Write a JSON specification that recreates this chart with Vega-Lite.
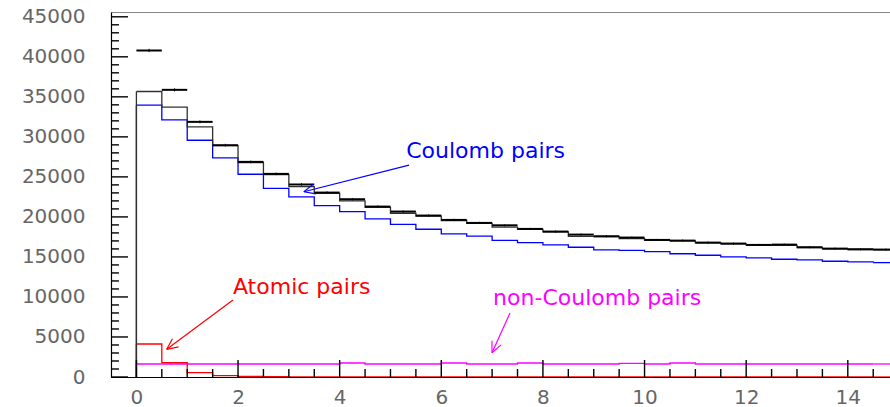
{
  "$schema": "https://vega.github.io/schema/vega-lite/v6.json",
  "width": 780,
  "height": 365,
  "autosize": {"type": "none"},
  "padding": {"left": 111, "top": 12, "right": 0, "bottom": 30},
  "background": "white",
  "config": {
    "view": {"stroke": "#888888", "strokeWidth": 1},
    "axis": {"grid": false, "title": null, "ticks": false, "labelFont": "DejaVu Sans", "labelFontSize": 20, "labelColor": "#666666", "domainColor": "#000000", "domainWidth": 1.2, "labelOverlap": false, "labelBound": false, "labelFlush": false}
  },
  "datasets": {
    "bins": [
      {"lo": 0.0, "hi": 0.5, "c": 0.25, "data": 40790, "dlo": 40588, "dhi": 40992, "total": 35670, "coulomb": 33960, "atomic": 4125, "noncoul": 1625},
      {"lo": 0.5, "hi": 1.0, "c": 0.75, "data": 35875, "dlo": 35686, "dhi": 36064, "total": 33710, "coulomb": 32125, "atomic": 1790, "noncoul": 1625},
      {"lo": 1.0, "hi": 1.5, "c": 1.25, "data": 31875, "dlo": 31696, "dhi": 32054, "total": 31250, "coulomb": 29580, "atomic": 540, "noncoul": 1625},
      {"lo": 1.5, "hi": 2.0, "c": 1.75, "data": 28960, "dlo": 28790, "dhi": 29130, "total": 28900, "coulomb": 27375, "atomic": 170, "noncoul": 1625},
      {"lo": 2.0, "hi": 2.5, "c": 2.25, "data": 26875, "dlo": 26711, "dhi": 27039, "total": 26800, "coulomb": 25330, "atomic": 60, "noncoul": 1625},
      {"lo": 2.5, "hi": 3.0, "c": 2.75, "data": 25375, "dlo": 25216, "dhi": 25534, "total": 25300, "coulomb": 23560, "atomic": 30, "noncoul": 1625},
      {"lo": 3.0, "hi": 3.5, "c": 3.25, "data": 24050, "dlo": 23895, "dhi": 24205, "total": 23790, "coulomb": 22500, "atomic": 20, "noncoul": 1625},
      {"lo": 3.5, "hi": 4.0, "c": 3.75, "data": 23040, "dlo": 22888, "dhi": 23192, "total": 22950, "coulomb": 21420, "atomic": 10, "noncoul": 1625},
      {"lo": 4.0, "hi": 4.5, "c": 4.25, "data": 22210, "dlo": 22061, "dhi": 22359, "total": 22000, "coulomb": 20670, "atomic": 10, "noncoul": 1750},
      {"lo": 4.5, "hi": 5.0, "c": 4.75, "data": 21290, "dlo": 21144, "dhi": 21436, "total": 21200, "coulomb": 19750, "atomic": 5, "noncoul": 1625},
      {"lo": 5.0, "hi": 5.5, "c": 5.25, "data": 20670, "dlo": 20526, "dhi": 20814, "total": 20460, "coulomb": 19080, "atomic": 5, "noncoul": 1625},
      {"lo": 5.5, "hi": 6.0, "c": 5.75, "data": 20170, "dlo": 20028, "dhi": 20312, "total": 20100, "coulomb": 18460, "atomic": 5, "noncoul": 1625},
      {"lo": 6.0, "hi": 6.5, "c": 6.25, "data": 19625, "dlo": 19485, "dhi": 19765, "total": 19550, "coulomb": 17875, "atomic": 0, "noncoul": 1750},
      {"lo": 6.5, "hi": 7.0, "c": 6.75, "data": 19250, "dlo": 19111, "dhi": 19389, "total": 19200, "coulomb": 17600, "atomic": 0, "noncoul": 1625},
      {"lo": 7.0, "hi": 7.5, "c": 7.25, "data": 18950, "dlo": 18812, "dhi": 19088, "total": 18720, "coulomb": 17080, "atomic": 0, "noncoul": 1625},
      {"lo": 7.5, "hi": 8.0, "c": 7.75, "data": 18500, "dlo": 18364, "dhi": 18636, "total": 18450, "coulomb": 16790, "atomic": 0, "noncoul": 1750},
      {"lo": 8.0, "hi": 8.5, "c": 8.25, "data": 18170, "dlo": 18035, "dhi": 18305, "total": 18120, "coulomb": 16500, "atomic": 0, "noncoul": 1625},
      {"lo": 8.5, "hi": 9.0, "c": 8.75, "data": 17790, "dlo": 17657, "dhi": 17923, "total": 17580, "coulomb": 16210, "atomic": 0, "noncoul": 1625},
      {"lo": 9.0, "hi": 9.5, "c": 9.25, "data": 17580, "dlo": 17447, "dhi": 17713, "total": 17550, "coulomb": 15875, "atomic": 0, "noncoul": 1625},
      {"lo": 9.5, "hi": 10.0, "c": 9.75, "data": 17420, "dlo": 17288, "dhi": 17552, "total": 17290, "coulomb": 15810, "atomic": 0, "noncoul": 1700},
      {"lo": 10.0, "hi": 10.5, "c": 10.25, "data": 17125, "dlo": 16994, "dhi": 17256, "total": 17080, "coulomb": 15670, "atomic": 0, "noncoul": 1625},
      {"lo": 10.5, "hi": 11.0, "c": 10.75, "data": 17040, "dlo": 16909, "dhi": 17171, "total": 17000, "coulomb": 15400, "atomic": 0, "noncoul": 1750},
      {"lo": 11.0, "hi": 11.5, "c": 11.25, "data": 16790, "dlo": 16660, "dhi": 16920, "total": 16750, "coulomb": 15210, "atomic": 0, "noncoul": 1625},
      {"lo": 11.5, "hi": 12.0, "c": 11.75, "data": 16670, "dlo": 16541, "dhi": 16799, "total": 16640, "coulomb": 15000, "atomic": 0, "noncoul": 1625},
      {"lo": 12.0, "hi": 12.5, "c": 12.25, "data": 16500, "dlo": 16372, "dhi": 16628, "total": 16480, "coulomb": 14875, "atomic": 0, "noncoul": 1625},
      {"lo": 12.5, "hi": 13.0, "c": 12.75, "data": 16540, "dlo": 16411, "dhi": 16669, "total": 16460, "coulomb": 14710, "atomic": 0, "noncoul": 1625},
      {"lo": 13.0, "hi": 13.5, "c": 13.25, "data": 16210, "dlo": 16083, "dhi": 16337, "total": 16180, "coulomb": 14625, "atomic": 0, "noncoul": 1625},
      {"lo": 13.5, "hi": 14.0, "c": 13.75, "data": 16040, "dlo": 15913, "dhi": 16167, "total": 16010, "coulomb": 14460, "atomic": 0, "noncoul": 1625},
      {"lo": 14.0, "hi": 14.5, "c": 14.25, "data": 15960, "dlo": 15834, "dhi": 16086, "total": 15930, "coulomb": 14375, "atomic": 0, "noncoul": 1625},
      {"lo": 14.5, "hi": 15.0, "c": 14.75, "data": 15920, "dlo": 15794, "dhi": 16046, "total": 15900, "coulomb": 14290, "atomic": 0, "noncoul": 1625}
    ],
    "xmajor": [{"v": 0}, {"v": 2}, {"v": 4}, {"v": 6}, {"v": 8}, {"v": 10}, {"v": 12}, {"v": 14}],
    "xminor": [{"v": 0.5}, {"v": 1}, {"v": 1.5}, {"v": 2.5}, {"v": 3}, {"v": 3.5}, {"v": 4.5}, {"v": 5}, {"v": 5.5}, {"v": 6.5}, {"v": 7}, {"v": 7.5}, {"v": 8.5}, {"v": 9}, {"v": 9.5}, {"v": 10.5}, {"v": 11}, {"v": 11.5}, {"v": 12.5}, {"v": 13}, {"v": 13.5}, {"v": 14.5}],
    "ymajor": [{"v": 0}, {"v": 5000}, {"v": 10000}, {"v": 15000}, {"v": 20000}, {"v": 25000}, {"v": 30000}, {"v": 35000}, {"v": 40000}, {"v": 45000}],
    "yminor": [{"v": 1000}, {"v": 2000}, {"v": 3000}, {"v": 4000}, {"v": 6000}, {"v": 7000}, {"v": 8000}, {"v": 9000}, {"v": 11000}, {"v": 12000}, {"v": 13000}, {"v": 14000}, {"v": 16000}, {"v": 17000}, {"v": 18000}, {"v": 19000}, {"v": 21000}, {"v": 22000}, {"v": 23000}, {"v": 24000}, {"v": 26000}, {"v": 27000}, {"v": 28000}, {"v": 29000}, {"v": 31000}, {"v": 32000}, {"v": 33000}, {"v": 34000}, {"v": 36000}, {"v": 37000}, {"v": 38000}, {"v": 39000}, {"v": 41000}, {"v": 42000}, {"v": 43000}, {"v": 44000}],
    "notes": [
      {"series": "coulomb", "label": "Coulomb pairs", "x": 5.31, "y": 27375},
      {"series": "atomic", "label": "Atomic pairs", "x": 1.90, "y": 10340},
      {"series": "noncoul", "label": "non-Coulomb pairs", "x": 7.02, "y": 9000}
    ],
    "arrows": [
      {"series": "coulomb", "x": 5.365, "y": 26480, "x2": 3.295, "y2": 23145},
      {"series": "coulomb", "x": 3.295, "y": 23145, "x2": 3.531, "y2": 22869},
      {"series": "coulomb", "x": 3.295, "y": 23145, "x2": 3.482, "y2": 24093},
      {"series": "atomic", "x": 1.901, "y": 9617, "x2": 0.596, "y2": 3460},
      {"series": "atomic", "x": 0.596, "y": 3460, "x2": 0.829, "y2": 3759},
      {"series": "atomic", "x": 0.596, "y": 3460, "x2": 0.709, "y2": 4784},
      {"series": "noncoul", "x": 7.352, "y": 7994, "x2": 6.998, "y2": 3035},
      {"series": "noncoul", "x": 6.998, "y": 3035, "x2": 7.178, "y2": 4009},
      {"series": "noncoul", "x": 6.998, "y": 3035, "x2": 6.997, "y2": 4534}
    ]
  },
  "layer": [
    {
      "data": {"name": "bins"},
      "transform": [{"fold": ["noncoul", "atomic", "coulomb", "total"], "as": ["series", "value"]}],
      "mark": {"type": "line", "interpolate": "step-after", "strokeWidth": 1.3, "clip": true},
      "encoding": {
        "x": {"field": "lo", "type": "quantitative",
              "scale": {"domain": [-0.5, 14.85], "nice": false, "zero": false},
              "axis": {"orient": "bottom", "values": [0, 2, 4, 6, 8, 10, 12, 14], "labelPadding": 10, "title": null}},
        "y": {"field": "value", "type": "quantitative",
              "scale": {"domain": [0, 45600], "nice": false, "zero": true},
              "axis": {"orient": "left", "values": [0, 5000, 10000, 15000, 20000, 25000, 30000, 35000, 40000, 45000], "format": "d", "labelPadding": 26, "title": null}},
        "color": {"field": "series", "type": "nominal",
                  "scale": {"domain": ["noncoul", "atomic", "coulomb", "total"], "range": ["#ff00ff", "#ff0000", "#0000ff", "#303030"]},
                  "legend": null}
      }
    },
    {
      "data": {"name": "bins"},
      "transform": [
        {"fold": ["noncoul", "atomic", "coulomb", "total"], "as": ["series", "value"]},
        {"filter": "datum.lo == 14.5"}
      ],
      "mark": {"type": "rule", "strokeWidth": 1.3, "clip": true},
      "encoding": {
        "x": {"field": "lo", "type": "quantitative"},
        "x2": {"field": "hi"},
        "y": {"field": "value", "type": "quantitative"},
        "color": {"field": "series", "type": "nominal", "legend": null}
      }
    },
    {
      "data": {"name": "bins"},
      "transform": [
        {"fold": ["noncoul", "atomic", "coulomb", "total"], "as": ["series", "value"]},
        {"filter": "datum.lo == 0"}
      ],
      "mark": {"type": "rule", "strokeWidth": 1.3},
      "encoding": {
        "x": {"field": "lo", "type": "quantitative"},
        "y": {"field": "value", "type": "quantitative"},
        "y2": {"datum": 0},
        "color": {"field": "series", "type": "nominal", "legend": null}
      }
    },
    {
      "data": {"name": "bins"},
      "mark": {"type": "rule", "strokeWidth": 2, "color": "#000000", "clip": true},
      "encoding": {
        "x": {"field": "lo", "type": "quantitative"},
        "x2": {"field": "hi"},
        "y": {"field": "data", "type": "quantitative"}
      }
    },
    {
      "data": {"name": "bins"},
      "mark": {"type": "rule", "color": "#000000", "strokeWidth": 1},
      "encoding": {
        "x": {"field": "c", "type": "quantitative"},
        "y": {"field": "dlo", "type": "quantitative"},
        "y2": {"field": "dhi"}
      }
    },
    {
      "data": {"name": "xmajor"},
      "mark": {"type": "rule", "color": "#000000", "strokeWidth": 1.4},
      "encoding": {
        "x": {"field": "v", "type": "quantitative"},
        "y": {"datum": 0, "type": "quantitative"},
        "y2": {"datum": 2125}
      }
    },
    {
      "data": {"name": "xminor"},
      "mark": {"type": "rule", "color": "#000000", "strokeWidth": 1.4},
      "encoding": {
        "x": {"field": "v", "type": "quantitative"},
        "y": {"datum": 0, "type": "quantitative"},
        "y2": {"datum": 1000}
      }
    },
    {
      "data": {"name": "ymajor"},
      "mark": {"type": "rule", "color": "#000000", "strokeWidth": 1.4},
      "encoding": {
        "y": {"field": "v", "type": "quantitative"},
        "x": {"datum": -0.5, "type": "quantitative"},
        "x2": {"datum": -0.165}
      }
    },
    {
      "data": {"name": "yminor"},
      "mark": {"type": "rule", "color": "#000000", "strokeWidth": 1.4},
      "encoding": {
        "y": {"field": "v", "type": "quantitative"},
        "x": {"datum": -0.5, "type": "quantitative"},
        "x2": {"datum": -0.343}
      }
    },
    {
      "data": {"name": "arrows"},
      "mark": {"type": "rule", "strokeWidth": 1.2},
      "encoding": {
        "x": {"field": "x", "type": "quantitative"},
        "y": {"field": "y", "type": "quantitative"},
        "x2": {"field": "x2"},
        "y2": {"field": "y2"},
        "color": {"field": "series", "type": "nominal", "legend": null}
      }
    },
    {
      "data": {"name": "notes"},
      "mark": {"type": "text", "font": "DejaVu Sans", "fontSize": 22, "align": "left", "baseline": "alphabetic"},
      "encoding": {
        "x": {"field": "x", "type": "quantitative"},
        "y": {"field": "y", "type": "quantitative"},
        "text": {"field": "label"},
        "color": {"field": "series", "type": "nominal", "legend": null}
      }
    }
  ]
}
